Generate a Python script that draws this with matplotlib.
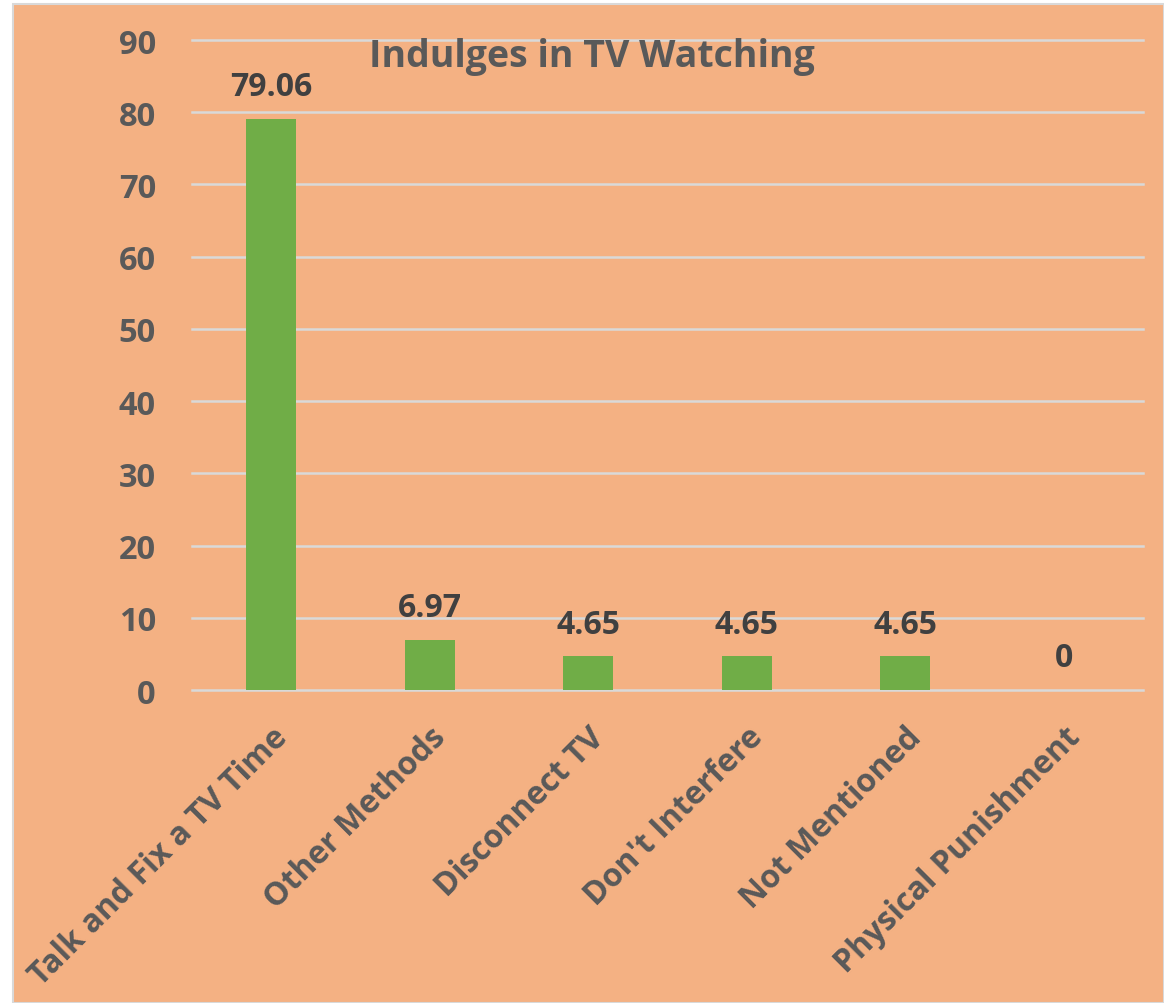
#!/usr/bin/env python3
"""Bar chart: Indulges in TV Watching."""

import matplotlib
matplotlib.use("Agg")
import matplotlib.pyplot as plt
from matplotlib.patches import Rectangle

categories = ["Talk and Fix a TV Time", "Other Methods", "Disconnect TV",
              "Don't Interfere", "Not Mentioned", "Physical Punishment"]
values = [79.06, 6.97, 4.65, 4.65, 4.65, 0]
value_labels = ["79.06", "6.97", "4.65", "4.65", "4.65", "0"]
y_ticks = [0, 10, 20, 30, 40, 50, 60, 70, 80, 90]

BG = "#F4B183"
BAR = "#70AD47"
TICK_COLOR = "#595959"
LABEL_COLOR = "#404040"

plt.rcParams.update({
    "font.family": ["Open Sans", "DejaVu Sans"],
    "font.weight": "bold",
})

fig = plt.figure(figsize=(11.64, 10.04), dpi=100, facecolor="white")

# chart area background with thin light border (behind the axes)
fig.patches.append(Rectangle((13 / 1164, 0), 1 - 13 / 1164, 1 - 5 / 1004,
                             transform=fig.transFigure, facecolor=BG,
                             edgecolor="#D9D9D9", linewidth=1.5, zorder=-1))

ax = fig.add_axes([192 / 1164, 1 - 691 / 1004, (1143 - 192) / 1164, (691 - 41) / 1004])
ax.set_facecolor("none")

x = list(range(len(categories)))
ax.bar(x, values, width=0.315, color=BAR, zorder=3)

for xi, v, lab in zip(x, values, value_labels):
    ax.text(xi, v + 2.2, lab, ha="center", va="bottom", fontsize=23,
            fontweight="bold", color=LABEL_COLOR, zorder=4)

ax.set_xlim(-0.5, len(categories) - 0.5)
ax.set_ylim(0, 90)
ax.set_yticks(y_ticks)
ax.set_yticklabels([str(t) for t in y_ticks], fontsize=23.5, color=TICK_COLOR)
ax.set_xticks(x)
ax.set_xticklabels(categories, fontsize=23, color=TICK_COLOR, rotation=45,
                   ha="right", rotation_mode="anchor")
ax.tick_params(axis="both", length=0)
ax.tick_params(axis="y", pad=26)
ax.tick_params(axis="x", pad=22)

ax.grid(True, axis="y", color="#D9D9D9", linewidth=1.8, zorder=1)
ax.set_axisbelow(True)
for gl in ax.get_ygridlines():
    gl.set_clip_on(False)
for s in ax.spines.values():
    s.set_visible(False)

fig.text(592 / 1164, 1 - 57 / 1004, "Indulges in TV Watching", ha="center",
         va="center", fontsize=27, fontweight="bold", color=TICK_COLOR)

fig.savefig("out.png", dpi=100, facecolor=fig.get_facecolor())
